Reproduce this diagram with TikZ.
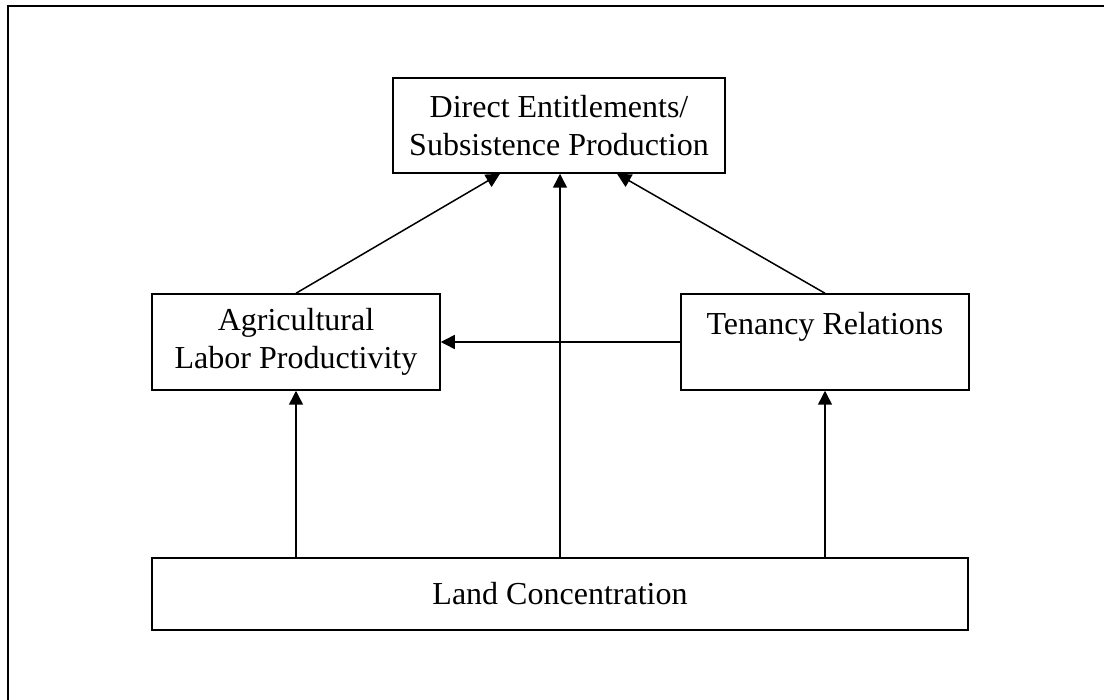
\documentclass[tikz,border=0pt]{standalone}
\usepackage{fontspec}
\setmainfont{Liberation Serif}
\usetikzlibrary{arrows.meta}

\begin{document}
\begin{tikzpicture}[x=0.5pt, y=-0.5pt,
    box/.style = {draw, line width=0.75pt, align=center, inner sep=0pt,
                  font=\fontsize{16}{19}\selectfont},
    link/.style = {line width=0.75pt, -{Triangle[length=7pt, width=7pt]}}]
      \useasboundingbox (0,0) rectangle (1104,700);
      \clip (0,0) rectangle (1104,700);
      \draw[line width=1.1pt] (8,6) rectangle (1120,720);

      \node[box, minimum width=166pt, minimum height=47.5pt] (direct) at (559,125.5)
           {Direct Entitlements/\\Subsistence Production};
      \node[box, minimum width=144pt, minimum height=48pt] (labor) at (296,342)
           {Agricultural\\Labor Productivity};
      \node[box, minimum width=144pt, minimum height=48pt] (tenancy) at (825,342)
           {Tenancy Relations\\\mbox{}};
      \node[box, minimum width=408pt, minimum height=36pt] (land) at (560,594)
           {Land Concentration};

      \draw[link] (labor.north) -- ([xshift=-29.5pt]direct.south);
      \draw[link] (tenancy.north) -- ([xshift=29pt]direct.south);
      \draw[link] (land.north) -- (land.north |- direct.south);
      \draw[link] (tenancy.west) -- (labor.east);
      \draw[link] (land.north -| labor) -- (labor.south);
      \draw[link] (land.north -| tenancy) -- (tenancy.south);
\end{tikzpicture}
\end{document}
